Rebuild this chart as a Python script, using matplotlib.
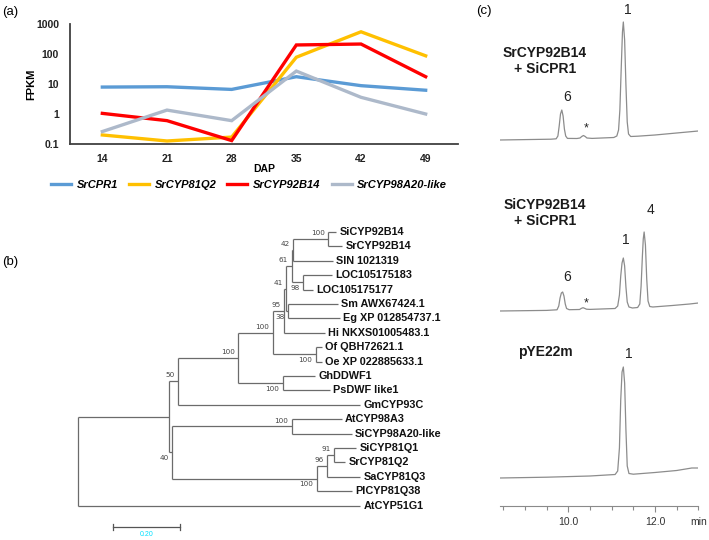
import matplotlib
matplotlib.use('Agg')
import matplotlib.pyplot as plt
import numpy as np

plt.rcParams['font.family'] = ['Liberation Sans', 'DejaVu Sans']

W, H = 709, 540
fig = plt.figure(figsize=(W / 100, H / 100), dpi=100)


def px_axes(x0, y0, x1, y1):
    return fig.add_axes([x0 / W, 1 - y1 / H, (x1 - x0) / W, (y1 - y0) / H])


# ---------------- data: panel (a) ----------------
dap = ['14', '21', '28', '35', '42', '49']
fpkm_cpr1 = [7.9, 8.1, 6.6, 17.5, 8.8, 6.2]
fpkm_81q2 = [0.2, 0.126, 0.17, 78, 550, 87]
fpkm_92b14 = [1.05, 0.6, 0.13, 200, 215, 17.5]
fpkm_98a20 = [0.26, 1.35, 0.6, 27, 3.6, 1.0]
gene_names = ['SrCPR1', 'SrCYP81Q2', 'SrCYP92B14', 'SrCYP98A20-like']
fpkm_ticks = [0.1, 1, 10, 100, 1000]
fpkm_tick_labels = ['0.1', '1', '10', '100', '1000']

# ---------------- data: panel (b) tree ----------------
leaf_names = ['SiCYP92B14', 'SrCYP92B14', 'SIN 1021319', 'LOC105175183', 'LOC105175177',
              'Sm AWX67424.1', 'Eg XP 012854737.1', 'Hi NKXS01005483.1', 'Of QBH72621.1',
              'Oe XP 022885633.1', 'GhDDWF1', 'PsDWF like1', 'GmCYP93C', 'AtCYP98A3',
              'SiCYP98A20-like', 'SiCYP81Q1', 'SrCYP81Q2', 'SaCYP81Q3', 'PlCYP81Q38', 'AtCYP51G1']
leaf_dist = [0.774, 0.792, 0.765, 0.761, 0.705, 0.780, 0.786, 0.741, 0.731, 0.731,
             0.711, 0.756, 0.846, 0.791, 0.821, 0.834, 0.801, 0.846, 0.822, 0.846]
node_children = {
    'n92': ['SiCYP92B14', 'SrCYP92B14'],
    'n42': ['n92', 'SIN 1021319'],
    'nLOC': ['LOC105175183', 'LOC105175177'],
    'n61': ['n42', 'nLOC'],
    'n38': ['Sm AWX67424.1', 'Eg XP 012854737.1'],
    'n41': ['n61', 'n38'],
    'n95': ['n41', 'Hi NKXS01005483.1'],
    'nOf': ['Of QBH72621.1', 'Oe XP 022885633.1'],
    'n100a': ['n95', 'nOf'],
    'nGh': ['GhDDWF1', 'PsDWF like1'],
    'n100b': ['n100a', 'nGh'],
    'n50': ['n100b', 'GmCYP93C'],
    'n98A': ['AtCYP98A3', 'SiCYP98A20-like'],
    'n91': ['SiCYP81Q1', 'SrCYP81Q2'],
    'n96': ['n91', 'SaCYP81Q3'],
    'n81': ['n96', 'PlCYP81Q38'],
    'n40': ['n98A', 'n81'],
    'nX': ['n50', 'n40'],
    'root': ['nX', 'AtCYP51G1'],
}
node_dist = {'n92': 0.751, 'n42': 0.646, 'nLOC': 0.676, 'n61': 0.641, 'n38': 0.631,
             'n41': 0.624, 'n95': 0.619, 'nOf': 0.713, 'n100a': 0.584, 'nGh': 0.614,
             'n100b': 0.481, 'n50': 0.301, 'n98A': 0.641, 'n91': 0.768, 'n96': 0.748,
             'n81': 0.716, 'n40': 0.283, 'nX': 0.273, 'root': 0.0}
bootstrap = {'n92': 100, 'n42': 42, 'nLOC': 98, 'n61': 61, 'n38': 38, 'n41': 41,
             'n95': 95, 'nOf': 100, 'n100a': 100, 'nGh': 100, 'n100b': 100, 'n50': 50,
             'n98A': 100, 'n91': 91, 'n96': 96, 'n81': 100, 'n40': 40}
scale_length = 0.20
scale_label = '0.20'

# ---------------- data: panel (c) chromatograms ----------------
trace1_t = [8.42, 9.00, 9.60, 9.72, 9.76, 9.79, 9.82, 9.85, 9.88, 9.91, 9.94, 9.98, 10.20,
            10.27, 10.31, 10.35, 10.39, 10.43, 10.55, 11.05, 11.12, 11.16, 11.19, 11.22, 11.25,
            11.27, 11.30, 11.33, 11.36, 11.39, 11.44, 11.60, 12.00, 12.50, 13.00]
trace1_s = [0, 0.4, 0.8, 1.2, 4, 14, 26, 30, 24, 11, 4, 1.6, 1.5,
            2, 3.5, 4.5, 3.5, 2, 1.6, 2.5, 4, 10, 30, 70, 108,
            118, 100, 55, 18, 6, 3.5, 3.8, 5, 7, 9]
trace1_peaks = [('6', 9.85), ('*', 10.35), ('1', 11.27)]
trace1_name = 'SrCYP92B14\n+ SiCPR1'

trace2_t = [8.42, 9.50, 9.74, 9.78, 9.81, 9.84, 9.87, 9.90, 9.93, 9.96, 10.02, 10.26, 10.30,
            10.34, 10.38, 10.42, 10.50, 11.08, 11.14, 11.18, 11.21, 11.24, 11.27, 11.30, 11.33,
            11.36, 11.40, 11.48, 11.60, 11.65, 11.68, 11.71, 11.73, 11.75, 11.78, 11.81, 11.84,
            11.88, 11.95, 12.40, 12.80, 13.00]
trace2_s = [0, 0.6, 1.2, 5, 13, 18, 19, 15, 7, 2.5, 1.3, 1.5, 2.6,
            3.3, 2.6, 1.8, 1.6, 2.5, 5, 16, 35, 48, 53, 45, 24,
            9, 4, 3, 3.5, 7, 25, 55, 72, 79, 66, 32, 10,
            4.5, 4, 5.5, 7, 8]
trace2_peaks = [('6', 9.87), ('*', 10.35), ('1', 11.27), ('4', 11.75)]
trace2_name = 'SiCYP92B14\n+ SiCPR1'

trace3_t = [8.42, 9.50, 10.50, 11.08, 11.14, 11.18, 11.21, 11.24, 11.27, 11.30, 11.33, 11.36,
            11.40, 11.50, 12.00, 12.50, 12.85, 13.00]
trace3_s = [0, 0.8, 2, 3.5, 7, 30, 78, 106, 111, 95, 48, 12,
            4.5, 3.8, 5.5, 7.5, 10, 10]
trace3_peaks = [('1', 11.27)]
trace3_name = 'pYE22m'

time_major = [10.0, 12.0]
time_major_labels = ['10.0', '12.0']
time_minor = [8.5, 9.0, 9.5, 10.5, 11.0, 11.5, 12.5, 13.0]

# ================= panel (a) =================
colors_a = ['#5B9BD5', '#FFC000', '#FF0000', '#ADB9CA']
ax_a = px_axes(70, 24, 458, 144)
xa = np.arange(len(dap))
handles = []
for vals, c, nm in zip([fpkm_cpr1, fpkm_81q2, fpkm_92b14, fpkm_98a20], colors_a, gene_names):
    ln, = ax_a.plot(xa, vals, color=c, lw=2.4, solid_joinstyle='miter', label=nm)
    handles.append(ln)
ax_a.set_yscale('log')
ax_a.set_ylim(0.1, 1000)
ax_a.set_xlim(-0.5, len(dap) - 0.5)
ax_a.set_yticks(fpkm_ticks)
ax_a.set_yticklabels(fpkm_tick_labels)
ax_a.minorticks_off()
ax_a.set_xticks(xa)
ax_a.set_xticklabels(dap)
ax_a.tick_params(axis='both', length=0, labelsize=7.5, colors='#222222')
ax_a.tick_params(axis='y', pad=8)
ax_a.tick_params(axis='x', pad=7)
for lab in ax_a.get_xticklabels() + ax_a.get_yticklabels():
    lab.set_fontweight('bold')
for s in ['top', 'right']:
    ax_a.spines[s].set_visible(False)
for s in ['left', 'bottom']:
    ax_a.spines[s].set_color('#404040')
    ax_a.spines[s].set_linewidth(1.3)
ax_a.set_ylabel('FPKM', fontsize=8, fontweight='bold', labelpad=0)
ax_a.set_xlabel('DAP', fontsize=7.5, fontweight='bold', labelpad=0)
ax_a.patch.set_alpha(0)

fig.legend(handles, gene_names, loc='center', bbox_to_anchor=(249 / W, 1 - 185 / H), ncol=4,
           frameon=False, prop=dict(style='italic', weight='bold', size=8),
           handlelength=1.8, handletextpad=0.5, columnspacing=1.0)

fig.text(2 / W, 1 - 12 / H, '(a)', fontsize=9.5, va='center', ha='left')
fig.text(2 / W, 1 - 262 / H, '(b)', fontsize=9.5, va='center', ha='left')
fig.text(476 / W, 1 - 11 / H, '(c)', fontsize=9.5, va='center', ha='left')

# ================= panel (b) =================
ax_b = px_axes(0, 220, 470, 540)
ax_b.set_xlim(-0.234, 1.176)
ax_b.set_ylim(21.39, -0.833)
ax_b.axis('off')
tree_col = '#6b6b6b'
leaf_y = {n: i for i, n in enumerate(leaf_names)}
leaf_d = dict(zip(leaf_names, leaf_dist))


def npos(n):
    if n in leaf_y:
        return leaf_d[n], leaf_y[n]
    ys = [npos(c)[1] for c in node_children[n]]
    return node_dist[n], (min(ys) + max(ys)) / 2


below = {'nLOC', 'n38', 'nOf', 'nGh', 'n81', 'n40'}
for n, ch in node_children.items():
    d, y = npos(n)
    cps = [npos(c) for c in ch]
    ys = [p[1] for p in cps]
    ax_b.plot([d, d], [min(ys), max(ys)], color=tree_col, lw=0.9, solid_capstyle='butt')
    for (cd, cy) in cps:
        ax_b.plot([d, cd], [cy, cy], color=tree_col, lw=0.9, solid_capstyle='butt')
    if n in bootstrap:
        dy = -4.2 if n in below else 4.2
        ax_b.annotate(str(bootstrap[n]), xy=(d, y), xytext=(-2.6, dy), textcoords='offset points',
                      ha='right', va='center', fontsize=5.2, color='#444444',
                      family=['DejaVu Sans'])
for n in leaf_names:
    d, y = npos(n)
    ax_b.annotate(n, xy=(d, y), xytext=(2.4, 0), textcoords='offset points',
                  ha='left', va='center', fontsize=7.8, fontweight='bold', color='#111111')

# scale bar
sb_x0 = 0.106
sb_y = 20.47
ax_b.plot([sb_x0, sb_x0 + scale_length], [sb_y, sb_y], color='#555555', lw=0.9)
for xx in [sb_x0, sb_x0 + scale_length]:
    ax_b.plot([xx, xx], [sb_y - 0.2, sb_y + 0.2], color='#555555', lw=0.9)
ax_b.text(sb_x0 + scale_length / 2, sb_y + 0.55, scale_label, ha='center', va='center',
          fontsize=5, color='#00e0ff')

# ================= panel (c) =================
ax_c = px_axes(500, 0, 698.3, 506)
ax_c.set_xlim(8.424, 13.0)
ax_c.set_ylim(0, 506)
ax_c.patch.set_alpha(0)
for s in ['top', 'right', 'left']:
    ax_c.spines[s].set_visible(False)
ax_c.spines['bottom'].set_color('#8a8a8a')
ax_c.spines['bottom'].set_linewidth(0.8)
ax_c.set_yticks([])
ax_c.set_xticks(time_major)
ax_c.set_xticklabels(time_major_labels)
ax_c.set_xticks(time_minor, minor=True)
ax_c.tick_params(axis='x', which='major', length=4, width=0.8, color='#8a8a8a',
                 labelsize=7.5, labelcolor='#333333', pad=4)
ax_c.tick_params(axis='x', which='minor', length=3, width=0.8, color='#8a8a8a')
ax_c.annotate('min', xy=(13.0, 0), xycoords=('data', 'axes fraction'), xytext=(0, -7.6),
              textcoords='offset points', ha='center', va='top', fontsize=7.5, color='#333333')

offsets = [366, 195, 28]
title_y = [61, 213, 352]
# label offsets in pixels (dx right, dy up from the peak top)
peak_label_off = {0: [(5, 13), (3, 7), (4, 12)],
                  1: [(4, 15), (3, 4), (2, 18), (6, 22)],
                  2: [(5, 13)]}
traces = [(trace1_t, trace1_s, trace1_peaks, trace1_name),
          (trace2_t, trace2_s, trace2_peaks, trace2_name),
          (trace3_t, trace3_s, trace3_peaks, trace3_name)]
for k, (tt, ss, pk, nm) in enumerate(traces):
    tt = np.array(tt)
    ss = np.array(ss) + offsets[k]
    ax_c.plot(tt, ss, color='#8c8c8c', lw=0.9)
    for j, (lab, tp) in enumerate(pk):
        top = np.interp(tp, tt, ss)
        ox, oy = peak_label_off[k][j]
        fs = 9 if lab == '*' else 10
        ax_c.annotate(lab, xy=(tp, top), xytext=(ox * 0.72, oy * 0.72), textcoords='offset points',
                      ha='center', va='center', fontsize=fs, color='#222222')
    ax_c.text(9.46, 506 - title_y[k], nm, ha='center', va='center',
              fontsize=10, fontweight='bold', color='#1a1a1a', linespacing=1.25)

fig.savefig('out.png', dpi=100)
